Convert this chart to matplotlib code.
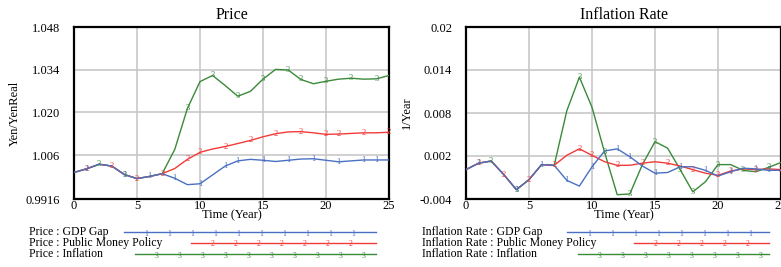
import matplotlib

matplotlib.use("Agg")
import matplotlib.pyplot as plt
import numpy as np
from matplotlib.lines import Line2D

plt.rcParams["font.family"] = ["Liberation Serif", "DejaVu Serif"]

# ---- data ----
years = list(range(26))

price_gdp_gap = [1.0003, 1.0015, 1.0030, 1.0024, 0.9996, 0.9983, 0.9990, 0.9999,
                 0.9984, 0.9963, 0.9966, 0.9995, 1.0024, 1.0041, 1.0046, 1.0043,
                 1.0039, 1.0043, 1.0047, 1.0048, 1.0043, 1.0038, 1.0041, 1.0044,
                 1.0044, 1.0044]
price_public_money = [1.0003, 1.0015, 1.0030, 1.0024, 0.9996, 0.9983, 0.9990, 0.9999,
                      1.0016, 1.0046, 1.0069, 1.0080, 1.0088, 1.0098, 1.0108, 1.0120,
                      1.0130, 1.0136, 1.0137, 1.0133, 1.0128, 1.0129, 1.0131, 1.0133,
                      1.0133, 1.0135]
price_inflation = [1.0003, 1.0015, 1.0030, 1.0024, 0.9996, 0.9983, 0.9990, 0.9999,
                   1.0079, 1.0213, 1.0301, 1.0321, 1.0288, 1.0253, 1.0269, 1.0309,
                   1.0341, 1.0339, 1.0308, 1.0294, 1.0302, 1.0309, 1.0312, 1.0309,
                   1.0310, 1.0321]

infl_gdp_gap = [0.0001, 0.0010, 0.0013, -0.0006, -0.0027, -0.0013, 0.0008, 0.0007,
                -0.0014, -0.0022, 0.0005, 0.0027, 0.0030, 0.0019, 0.0006, -0.0004,
                -0.0003, 0.0005, 0.0005, 0.0000, -0.0008, -0.0002, 0.0003, 0.0002,
                0.0000, 0.0000]
infl_public_money = [0.0001, 0.0010, 0.0013, -0.0006, -0.0027, -0.0013, 0.0008, 0.0007,
                     0.0021, 0.0030, 0.0021, 0.0012, 0.0007, 0.0007, 0.0010, 0.0012,
                     0.0010, 0.0006, 0.0001, -0.0004, -0.0007, -0.0001, 0.0002, 0.0001,
                     0.0002, 0.0001]
infl_inflation = [0.0001, 0.0010, 0.0013, -0.0006, -0.0027, -0.0013, 0.0008, 0.0007,
                  0.0083, 0.0130, 0.0088, 0.0025, -0.0034, -0.0033, 0.0008, 0.0040,
                  0.0031, 0.0001, -0.0030, -0.0016, 0.0008, 0.0008, 0.0000, -0.0002,
                  0.0004, 0.0011]

# where the little series numbers sit on each curve
marks_1 = [1, 4, 6, 8, 10, 12, 13, 15, 17, 19, 21, 23, 24]
marks_2 = [1, 3, 5, 7, 9, 10, 12, 14, 16, 18, 20, 21, 23, 25]
marks_3 = [2, 4, 9, 11, 13, 15, 17, 18, 20, 22, 24]

price_ticks = [0.9916, 1.006, 1.020, 1.034, 1.048]
price_ticklabels = ["0.9916", "1.006", "1.020", "1.034", "1.048"]
infl_ticks = [-0.004, 0.002, 0.008, 0.014, 0.02]
infl_ticklabels = ["-0.004", "0.002", "0.008", "0.014", "0.02"]

BLUE = "#4a70c2"
RED = "#f23a3a"
GREEN = "#3a8a3a"

W, H = 781, 267
fig = plt.figure(figsize=(W / 100, H / 100), dpi=100)


def draw_panel(ax, series, title, ylabel, ticks, ticklabels, ylim):
    ax.set_xlim(0, 25)
    ax.set_ylim(*ylim)
    # green first, blue on top
    for values, color, marks, num in reversed(series):
        ax.plot(years, values, color=color, lw=1.0, zorder=3)
        for t in marks:
            ax.text(t, values[t], num, color=color, fontsize=6,
                    ha="center", va="center", zorder=4)
    ax.set_xticks([0, 5, 10, 15, 20, 25])
    ax.set_yticks(ticks)
    ax.set_yticklabels(ticklabels)
    ax.tick_params(length=0, labelsize=9)
    ax.tick_params(axis="x", pad=1)
    ax.tick_params(axis="y", pad=10)
    ax.grid(True, color="#c4c4c4", lw=1.1)
    for sp in ax.spines.values():
        sp.set_linewidth(1.6)
    ax.set_title(title, fontsize=11.5, pad=6)
    ax.set_xlabel("Time (Year)", fontsize=9, labelpad=-2)
    ax.set_ylabel(ylabel, fontsize=9)
    ax.yaxis.set_label_coords(-0.17, 0.5)


ax1 = fig.add_axes([74 / W, (H - 199) / H, 315 / W, 172 / H])
draw_panel(ax1,
           [(price_gdp_gap, BLUE, marks_1, "1"),
            (price_public_money, RED, marks_2, "2"),
            (price_inflation, GREEN, marks_3, "3")],
           "Price", "Yen/YenReal", price_ticks, price_ticklabels,
           (0.9916, 1.048))

ax2 = fig.add_axes([466 / W, (H - 199) / H, 315 / W, 172 / H])
draw_panel(ax2,
           [(infl_gdp_gap, BLUE, marks_1, "1"),
            (infl_public_money, RED, marks_2, "2"),
            (infl_inflation, GREEN, marks_3, "3")],
           "Inflation Rate", "1/Year", infl_ticks, infl_ticklabels,
           (-0.004, 0.02))


# ---- Vensim style legends below each panel ----
def legend_row(text, x_text, y, x0, x1, color, num, step=23):
    fy = 1 - y / H
    fig.text(x_text / W, fy, text, fontsize=8.5, va="center", ha="left")
    fig.add_artist(Line2D([x0 / W, x1 / W], [fy, fy], color=color, lw=1.0,
                          transform=fig.transFigure))
    for xm in np.arange(x0 + 22, x1 - 4, step):
        fig.text(xm / W, fy - 1.5 / H, num, color=color, fontsize=5.5,
                 ha="center", va="center")


legend_row("Price : GDP Gap", 29, 232, 124, 376, BLUE, "1")
legend_row("Price : Public Money Policy", 29, 243, 191, 376, RED, "2")
legend_row("Price : Inflation", 29, 254, 135, 376, GREEN, "3")

legend_row("Inflation Rate : GDP Gap", 422, 232, 567, 769, BLUE, "1")
legend_row("Inflation Rate : Public Money Policy", 422, 243, 634, 769, RED, "2")
legend_row("Inflation Rate : Inflation", 422, 254, 578, 769, GREEN, "3")

fig.savefig("out.png", dpi=100)
